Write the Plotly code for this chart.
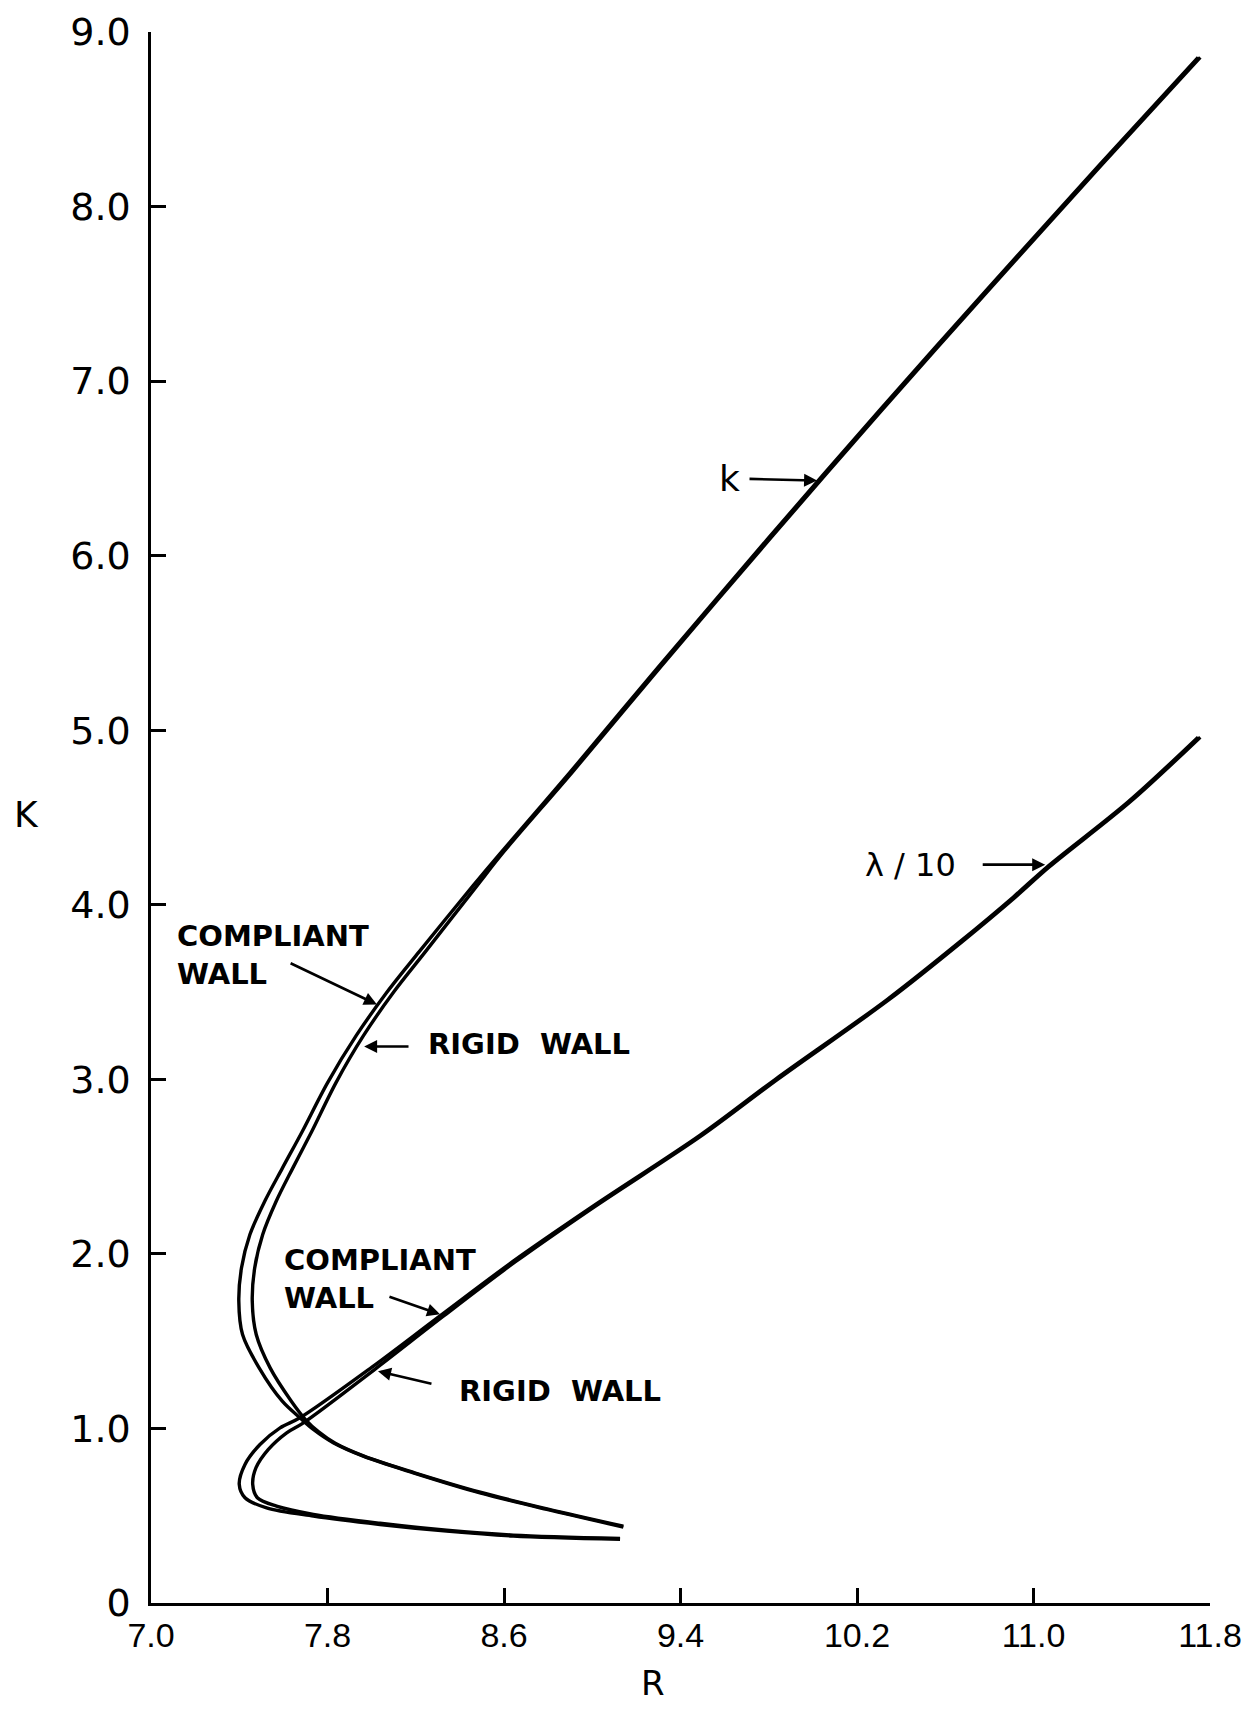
import plotly.graph_objects as go

# ---- data ----
# k curve, compliant wall (outer line)
k_comp_R = [11.746, 11.30, 10.80, 10.30, 9.80, 9.30, 8.90, 8.59, 8.46, 8.215, 8.07, 7.93,
            7.80, 7.685, 7.595, 7.515, 7.448, 7.410, 7.398, 7.415, 7.490, 7.595, 7.675,
            7.736, 7.826, 7.962, 8.189, 8.491, 8.794, 9.141]
k_comp_K = [8.855, 8.24, 7.54, 6.83, 6.103, 5.363, 4.76, 4.305, 4.11, 3.73, 3.50, 3.25,
            2.98, 2.70, 2.49, 2.30, 2.11, 1.919, 1.729, 1.538, 1.347, 1.156, 1.061,
            0.994, 0.918, 0.841, 0.746, 0.631, 0.536, 0.435]
# k curve, rigid wall (inner line)
k_rig_R = [11.756, 11.310, 10.810, 10.310, 9.810, 9.310, 8.910, 8.60, 8.478, 8.243, 8.100,
           7.963, 7.838, 7.728, 7.642, 7.567, 7.506, 7.470, 7.459, 7.477, 7.540, 7.636,
           7.700, 7.760, 7.835, 7.968, 8.195, 8.497, 8.800, 9.141]
k_rig_K = [8.855, 8.24, 7.54, 6.83, 6.103, 5.363, 4.76, 4.305, 4.11, 3.73, 3.50, 3.25,
           2.98, 2.70, 2.49, 2.30, 2.11, 1.919, 1.729, 1.538, 1.347, 1.156, 1.051,
           0.980, 0.915, 0.840, 0.746, 0.633, 0.538, 0.440]
# lambda/10 curve, compliant wall (outer line)
lam_comp_R = [11.746, 11.429, 11.06, 10.909, 10.667, 10.335, 9.83, 9.489, 9.0, 8.642,
              8.31, 8.0, 7.675, 7.585, 7.494, 7.426, 7.400, 7.426, 7.524, 7.736, 8.038,
              8.340, 8.642, 9.126]
lam_comp_K = [4.96, 4.59, 4.215, 4.045, 3.789, 3.456, 3.0, 2.68, 2.27, 1.958,
              1.645, 1.35, 1.061, 1.003, 0.908, 0.794, 0.679, 0.603, 0.545, 0.498, 0.450,
              0.412, 0.384, 0.365]
# lambda/10 curve, rigid wall (inner line)
lam_rig_R = [11.756, 11.439, 11.070, 10.919, 10.677, 10.345, 9.840, 9.499, 9.010, 8.652,
             8.322, 8.016, 7.691, 7.615, 7.532, 7.476, 7.461, 7.482, 7.569, 7.736, 8.038,
             8.340, 8.642, 9.126]
lam_rig_K = [4.96, 4.59, 4.215, 4.045, 3.789, 3.456, 3.0, 2.68, 2.27, 1.955,
             1.640, 1.340, 1.032, 0.975, 0.880, 0.775, 0.679, 0.603, 0.555, 0.508, 0.457,
             0.417, 0.389, 0.370]

x_tick_vals = [7.0, 7.8, 8.6, 9.4, 10.2, 11.0, 11.8]
x_tick_text = ["7.0", "7.8", "8.6", "9.4", "10.2", "11.0", "11.8"]
y_tick_vals = [0, 1, 2, 3, 4, 5, 6, 7, 8, 9]
y_tick_text = ["0", "1.0", "2.0", "3.0", "4.0", "5.0", "6.0", "7.0", "8.0", "9.0"]

FONT = "DejaVu Sans"
NARROW = "Liberation Sans"

fig = go.Figure()
for R, K in [(k_comp_R, k_comp_K), (k_rig_R, k_rig_K),
             (lam_comp_R, lam_comp_K), (lam_rig_R, lam_rig_K)]:
    fig.add_trace(go.Scatter(x=R, y=K, mode="lines",
                             line=dict(color="black", width=3.4, shape="spline", smoothing=0.9),
                             showlegend=False, hoverinfo="skip"))

# text labels
labels = [
    ("k", 9.62, 6.44, "center", "middle", 36, False),
    ("λ / 10", 10.441, 4.23, "center", "middle", 32, False),
    ("COMPLIANT<br>WALL", 7.109, 3.715, "left", "middle", 29, True),
    ("RIGID  WALL", 8.247, 3.20, "left", "middle", 29, True),
    ("COMPLIANT<br>WALL", 7.594, 1.857, "left", "middle", 29, True),
    ("RIGID  WALL", 8.387, 1.214, "left", "middle", 29, True),
]
for txt, x, y, xa, ya, sz, bold in labels:
    fig.add_annotation(x=x, y=y, xref="x", yref="y", text=("<b>%s</b>" % txt) if bold else txt,
                       showarrow=False, xanchor=xa, yanchor=ya, align="left",
                       font=dict(family=FONT, size=sz, color="black"))

# arrows: (head R, head K, tail R, tail K)
arrows = [
    (10.019, 6.43, 9.706, 6.44),
    (11.053, 4.23, 10.763, 4.23),
    (8.024, 3.429, 7.626, 3.669),
    (7.966, 3.188, 8.174, 3.188),
    (8.310, 1.654, 8.074, 1.757),
    (8.029, 1.328, 8.278, 1.254),
]
for hx, hy, tx, ty in arrows:
    fig.add_annotation(x=hx, y=hy, ax=tx, ay=ty, xref="x", yref="y", axref="x", ayref="y",
                       text="", showarrow=True, arrowhead=2, arrowsize=1.0, arrowwidth=2.6,
                       arrowcolor="black")

# axis titles
fig.add_annotation(x=9.276, y=-0.0509, xref="x", yref="paper", text="R", showarrow=False,
                   xanchor="center", yanchor="middle",
                   font=dict(family=FONT, size=34, color="black"))
fig.add_annotation(x=0.0, y=4.52, xref="paper", yref="y", text="K", showarrow=False,
                   xanchor="center", yanchor="middle", xshift=-125,
                   font=dict(family=FONT, size=36, color="black"))

# the page adds an 8 px body margin, so the figure is sized to fit inside it
fig.update_layout(
    width=1237, height=1697,
    margin=dict(l=143, r=35, t=24, b=102),
    paper_bgcolor="white", plot_bgcolor="white",
    showlegend=False,
)
fig.update_xaxes(range=[7.0, 11.8], tickvals=x_tick_vals, ticktext=x_tick_text,
                 automargin=False, ticklabeloverflow="allow",
                 showgrid=False, zeroline=False, showline=True, linecolor="black", linewidth=2.5,
                 ticks="inside", ticklen=15, tickwidth=2.5, tickcolor="black",
                 ticklabelstandoff=0,
                 tickfont=dict(family=NARROW, size=34, color="black"))
fig.update_yaxes(range=[0, 9.0], tickvals=y_tick_vals, ticktext=y_tick_text,
                 automargin=False, ticklabeloverflow="allow",
                 showgrid=False, zeroline=False, showline=True, linecolor="black", linewidth=2.5,
                 ticks="inside", ticklen=15, tickwidth=2.5, tickcolor="black",
                 ticklabelstandoff=10,
                 tickfont=dict(family=FONT, size=38, color="black"))

fig.write_html("out.html")
